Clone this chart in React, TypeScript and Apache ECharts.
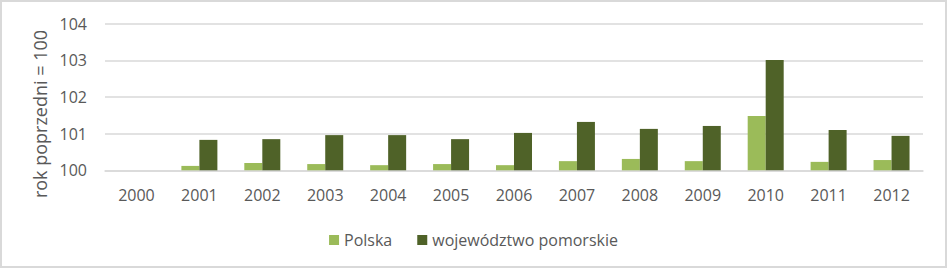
import React, { useEffect, useRef } from "react";
import * as echarts from "echarts";

const categories = ["2000", "2001", "2002", "2003", "2004", "2005", "2006", "2007", "2008", "2009", "2010", "2011", "2012"];
const polska = [null, 100.12, 100.2, 100.17, 100.14, 100.17, 100.14, 100.25, 100.31, 100.25, 101.48, 100.23, 100.28];
const pomorskie = [null, 100.83, 100.85, 100.96, 100.96, 100.85, 101.02, 101.32, 101.13, 101.21, 103.01, 101.1, 100.94];
const yTitle = "rok poprzedni = 100";
const seriesNames = ["Polska", "województwo pomorskie"];

const FONT = "'Open Sans', 'Liberation Sans', sans-serif";
const TEXT = "#595959";
const GRID = "#D9D9D9";

export default function App() {
  const ref = useRef<HTMLDivElement>(null);
  useEffect(() => {
    if (!ref.current) return;
    const chart = echarts.init(ref.current, undefined, { renderer: "svg" });
    chart.setOption({
      animation: false,
      textStyle: { fontFamily: FONT, color: TEXT },
      grid: { left: 105, right: 24, top: 23.7, bottom: 97.7, containLabel: false },
      legend: {
        left: "center",
        top: 227,
        itemWidth: 10,
        itemHeight: 10,
        itemGap: 25,
        icon: "rect",
        textStyle: { fontFamily: FONT, color: TEXT, fontSize: 16 },
        data: seriesNames,
      },
      xAxis: {
        type: "category",
        data: categories,
        axisLine: { show: true, lineStyle: { color: GRID, width: 1.5 } },
        axisTick: { show: false },
        axisLabel: { color: TEXT, fontSize: 16, fontFamily: FONT, margin: 17 },
      },
      yAxis: {
        type: "value",
        min: 100,
        max: 104,
        interval: 1,
        axisLine: { show: false },
        axisTick: { show: false },
        axisLabel: { color: TEXT, fontSize: 16, fontFamily: FONT, margin: 18 },
        splitLine: { lineStyle: { color: GRID, width: 1.5 } },
      },
      series: [
        {
          name: seriesNames[0],
          type: "bar",
          data: polska,
          barWidth: 18,
          barGap: "0%",
          itemStyle: { color: "#9BBB59" },
        },
        {
          name: seriesNames[1],
          type: "bar",
          data: pomorskie,
          barWidth: 18,
          barGap: "0%",
          itemStyle: { color: "#4F6228" },
        },
      ],
      graphic: [
        {
          type: "rect",
          shape: { x: 1, y: 1, width: 945, height: 266 },
          style: { fill: "none", stroke: GRID, lineWidth: 2 },
          silent: true,
        },
        {
          type: "text",
          x: 40,
          y: 114,
          rotation: Math.PI / 2,
          style: {
            text: yTitle,
            fill: TEXT,
            fontSize: 18,
            fontFamily: FONT,
            align: "center",
            verticalAlign: "middle",
          },
          silent: true,
        },
      ],
    });
    return () => chart.dispose();
  }, []);
  return (
    <div style={{ position: "fixed", left: 0, top: 0, width: 947, height: 268, background: "#fff" }}>
      <div ref={ref} style={{ width: 947, height: 268 }} />
    </div>
  );
}
